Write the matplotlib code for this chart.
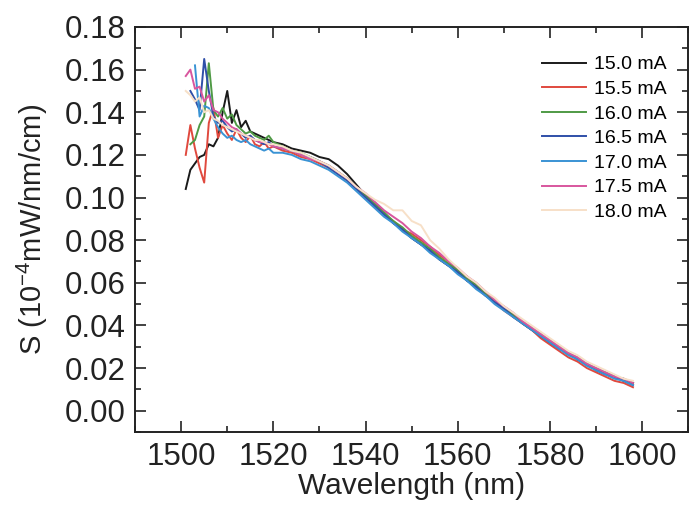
import numpy as np
import matplotlib
matplotlib.use("Agg")
import matplotlib.pyplot as plt
from matplotlib.ticker import MultipleLocator

plt.rcParams['font.family'] = ['Liberation Sans', 'DejaVu Sans']
plt.rcParams['mathtext.fontset'] = 'custom'
plt.rcParams['mathtext.rm'] = 'Liberation Sans'
plt.rcParams['mathtext.it'] = 'Liberation Sans:italic'
plt.rcParams['mathtext.bf'] = 'Liberation Sans:bold'

nan = np.nan

# wavelength grid (nm): 1 nm steps at the noisy start, 2 nm after
wl = list(range(1501, 1521)) + list(range(1522, 1599, 2))

labels = ['15.0 mA', '15.5 mA', '16.0 mA', '16.5 mA', '17.0 mA', '17.5 mA', '18.0 mA']
colors = ['#1a1a1a', '#e0493e', '#4f9a45', '#2f4fa8', '#3a93d4', '#d8569e', '#f7e0c8']

s_150 = [0.104, 0.113, 0.116, 0.119, 0.120, 0.125, 0.124, 0.128, 0.140, 0.150, 0.135, 0.141,
         0.133, 0.136, 0.131, 0.130, 0.129, 0.128, 0.127, 0.126,
         0.125, 0.123, 0.122, 0.121, 0.119, 0.118, 0.115, 0.111, 0.106, 0.101, 0.097, 0.093,
         0.088, 0.085, 0.081, 0.078, 0.075, 0.071, 0.068, 0.065, 0.061, 0.058, 0.054, 0.051,
         0.048, 0.045, 0.041, 0.038, 0.035, 0.032, 0.030, 0.027, 0.024, 0.022, 0.019, 0.018,
         0.016, 0.014, 0.013]
s_155 = [0.120, 0.134, 0.123, 0.114, 0.107, 0.135, 0.142, 0.128, 0.134, 0.130, 0.127, 0.132,
         0.128, 0.126, 0.129, 0.125, 0.124, 0.126, 0.123, 0.124,
         0.122, 0.121, 0.119, 0.118, 0.116, 0.114, 0.111, 0.108, 0.104, 0.100, 0.096, 0.092,
         0.089, 0.085, 0.083, 0.080, 0.077, 0.073, 0.070, 0.066, 0.063, 0.059, 0.055, 0.051,
         0.047, 0.044, 0.041, 0.038, 0.034, 0.031, 0.028, 0.025, 0.023, 0.020, 0.018, 0.016,
         0.014, 0.013, 0.011]
s_160 = [nan, 0.125, 0.127, 0.134, 0.138, 0.163, 0.141, 0.138, 0.142, 0.137, 0.139, 0.134,
         0.132, 0.130, 0.131, 0.129, 0.128, 0.127, 0.129, 0.126,
         0.124, 0.122, 0.121, 0.119, 0.117, 0.115, 0.112, 0.109, 0.105, 0.101, 0.097, 0.093,
         0.089, 0.086, 0.082, 0.079, 0.076, 0.072, 0.069, 0.066, 0.062, 0.059, 0.055, 0.052,
         0.048, 0.045, 0.042, 0.039, 0.036, 0.033, 0.030, 0.027, 0.025, 0.022, 0.020, 0.018,
         0.016, 0.015, 0.013]
s_165 = [nan, 0.150, 0.146, 0.141, 0.165, 0.150, 0.138, 0.135, 0.136, 0.133, 0.131, 0.132,
         0.130, 0.128, 0.129, 0.127, 0.126, 0.125, 0.126, 0.124,
         0.123, 0.122, 0.120, 0.119, 0.117, 0.114, 0.111, 0.108, 0.104, 0.100, 0.096, 0.092,
         0.088, 0.085, 0.081, 0.078, 0.075, 0.071, 0.068, 0.065, 0.061, 0.058, 0.054, 0.051,
         0.048, 0.044, 0.041, 0.038, 0.035, 0.032, 0.029, 0.027, 0.024, 0.022, 0.019, 0.017,
         0.016, 0.014, 0.012]
s_170 = [nan, nan, 0.162, 0.138, 0.143, 0.142, 0.137, 0.133, 0.130, 0.128, 0.129, 0.127,
         0.126, 0.127, 0.125, 0.124, 0.123, 0.122, 0.123, 0.121,
         0.121, 0.120, 0.118, 0.117, 0.115, 0.113, 0.110, 0.107, 0.103, 0.099, 0.095, 0.091,
         0.088, 0.084, 0.081, 0.078, 0.074, 0.071, 0.068, 0.064, 0.061, 0.057, 0.054, 0.050,
         0.047, 0.044, 0.041, 0.038, 0.035, 0.032, 0.029, 0.026, 0.024, 0.021, 0.019, 0.017,
         0.015, 0.014, 0.012]
s_175 = [0.157, 0.160, 0.151, 0.152, 0.145, 0.148, 0.141, 0.140, 0.137, 0.135, 0.133, 0.132,
         0.130, 0.129, 0.128, 0.127, 0.126, 0.126, 0.125, 0.124,
         0.123, 0.122, 0.120, 0.118, 0.117, 0.115, 0.112, 0.109, 0.105, 0.102, 0.098, 0.094,
         0.091, 0.088, 0.084, 0.081, 0.077, 0.074, 0.070, 0.067, 0.063, 0.060, 0.056, 0.052,
         0.049, 0.046, 0.042, 0.039, 0.036, 0.033, 0.030, 0.027, 0.025, 0.022, 0.020, 0.018,
         0.016, 0.015, 0.013]
s_180 = [0.150, 0.148, 0.145, 0.147, 0.140, 0.141, 0.137, 0.136, 0.134, 0.133, 0.132, 0.131,
         0.130, 0.129, 0.128, 0.127, 0.127, 0.126, 0.125, 0.125,
         0.124, 0.122, 0.121, 0.119, 0.117, 0.115, 0.112, 0.109, 0.105, 0.102, 0.099, 0.097,
         0.094, 0.094, 0.089, 0.087, 0.080, 0.076, 0.071, 0.067, 0.063, 0.060, 0.056, 0.053,
         0.049, 0.046, 0.043, 0.040, 0.037, 0.034, 0.031, 0.028, 0.026, 0.023, 0.021, 0.019,
         0.017, 0.015, 0.014]

series = [s_150, s_155, s_160, s_165, s_170, s_175, s_180]

fig = plt.figure(figsize=(6.89, 5.14), dpi=100)
ax = fig.add_axes([0.196, 0.1595, 0.803, 0.788])

for s, c, lab in zip(series, colors, labels):
    ax.plot(wl, s, color=c, lw=1.4, label=lab)

ax.set_xlim(1490, 1610)
ax.set_ylim(-0.01, 0.18)
ax.xaxis.set_major_locator(MultipleLocator(20))
ax.xaxis.set_minor_locator(MultipleLocator(10))
ax.yaxis.set_minor_locator(MultipleLocator(0.01))
yt = np.arange(0, 0.181, 0.02)
ax.set_yticks(yt)
ax.set_yticklabels(['%.2f' % v for v in yt])

ax.tick_params(which='both', direction='in', top=True, right=True, width=1.2,
               labelsize=22.5, colors='#222222')
ax.tick_params(which='major', length=8, pad=7)
ax.tick_params(which='minor', length=4)
for sp in ax.spines.values():
    sp.set_linewidth(1.4)
    sp.set_color('#222222')

ax.set_xlabel('Wavelength (nm)', fontsize=21.5, labelpad=0, color='#222222')
ax.set_ylabel(r'S (10$^{\mathrm{-4}}$mW/nm/cm)', fontsize=21, labelpad=10, color='#222222')

ax.legend(loc='upper right', bbox_to_anchor=(0.975, 0.948), frameon=False, fontsize=14,
          handlelength=2.3, handletextpad=0.4, labelspacing=0.36, borderaxespad=0)

fig.savefig('out.png', dpi=100)
